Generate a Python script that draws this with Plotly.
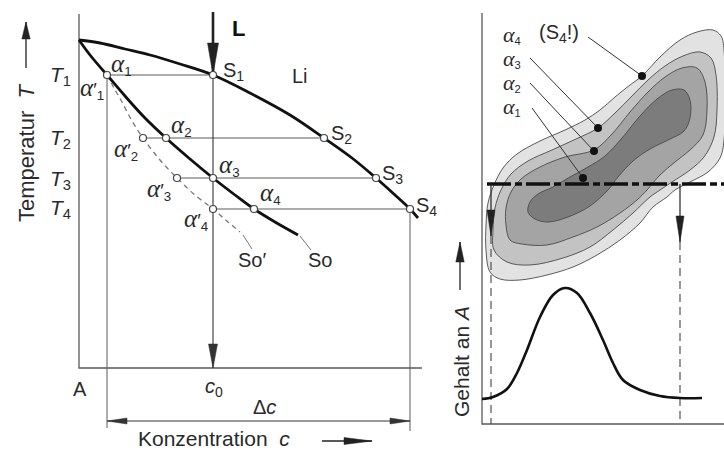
import plotly.graph_objects as go

# ---------------- drawing data (units: x to the right, y downward) ----------------
# Left panel: phase diagram, concentration c (x) vs temperature T (y)
axis_left_x = [79, 79, 422]
axis_left_y = [14, 368, 368]
liquidus_x = [79, 100, 125, 150, 180, 213, 250, 290, 324, 352, 376, 395, 410, 418]
liquidus_y = [40, 43, 49, 55, 64, 75, 93, 115, 138, 158, 178, 195, 209, 218]
solidus_x = [79, 90, 107, 125, 145, 166, 190, 213, 235, 254, 275, 298]
solidus_y = [40, 55, 75, 96, 118, 138, 159, 178, 195, 209, 222, 235]
nonequil_x = [107, 114, 122, 132, 143, 160, 177, 195, 213, 228, 240]
nonequil_y = [75, 88, 102, 121, 138, 160, 178, 195, 209, 222, 232]
T_levels = [75, 138, 178, 209]
T_names = ["T", "T", "T", "T"]
T_idx = ["1", "2", "3", "4"]
alpha_x = [107, 166, 213, 254]
alpha_prime_x = [107, 143, 177, 213]
S_x = [213, 324, 376, 410]
c0 = 213
c_left, c_right = 107, 410
conc_bottom = 368
dc_level = 421

# Right panel: segregation map and concentration profile
axis_right_x = [482, 482, 724]
axis_right_y = [13, 424, 424]
contour_A_x = [490, 486, 486, 488, 494, 503, 517, 540, 565, 585, 600, 615, 630, 642, 660, 680, 697, 713, 721, 724, 724, 720, 708, 690, 675, 667, 653, 640, 620, 597, 573, 547, 520, 500]
contour_A_y = [272, 250, 225, 203, 185, 168, 154, 141, 130, 120, 110, 97, 85, 76, 57, 40, 32, 30, 36, 50, 140, 158, 172, 182, 190, 197, 207, 223, 240, 255, 267, 275, 280, 279]
contour_B_x = [494, 493, 495, 501, 511, 528, 552, 576, 598, 615, 632, 648, 665, 683, 700, 711, 716, 717, 714, 704, 690, 672, 660, 650, 633, 613, 590, 563, 530, 507]
contour_B_y = [250, 230, 208, 190, 174, 161, 150, 139, 128, 113, 96, 80, 66, 56, 52, 58, 75, 110, 137, 157, 170, 182, 190, 197, 213, 230, 247, 258, 265, 262]
contour_C_x = [510, 506, 506, 511, 521, 540, 565, 594, 612, 630, 648, 665, 682, 697, 705, 707, 703, 690, 675, 660, 647, 637, 620, 597, 573, 547, 522]
contour_C_y = [240, 225, 208, 192, 179, 167, 157, 150, 134, 112, 92, 77, 68, 68, 82, 110, 135, 150, 162, 175, 190, 200, 213, 227, 237, 245, 244]
contour_D_x = [528, 530, 538, 553, 570, 588, 605, 622, 640, 657, 672, 684, 690, 690, 684, 668, 650, 633, 618, 608, 590, 568, 548, 535]
contour_D_y = [212, 202, 194, 187, 177, 167, 156, 138, 116, 99, 90, 90, 100, 118, 131, 140, 149, 161, 177, 190, 206, 217, 222, 219]
contour_fill = ["#e2e2e2", "#c3c3c3", "#a4a4a4", "#7c7c7c"]
dots_x = [583, 594, 598, 642]
dots_y = [178, 151, 128, 76]
dot_names = ["1", "2", "3", "4"]
cut_y = 184
cut_x = [487, 724]
cut_left_x, cut_right_x = 491, 680
profile_x = [482, 493, 507, 517, 527, 540, 553, 565, 577, 590, 603, 613, 623, 640, 660, 680, 702]
profile_y = [399, 397, 389, 373, 350, 317, 295, 288, 293, 313, 340, 363, 380, 390, 396, 398, 398]

# ---------------- styles ----------------
INK = "#222222"
GREY = "#5a5a5a"
SANS = "Liberation Sans, Arial, sans-serif"
SERIF = "Liberation Serif, Times New Roman, serif"

fig = go.Figure()


def line(xs, ys, color=GREY, width=1.0, dash=None, shape="linear"):
    fig.add_trace(go.Scatter(x=xs, y=ys, mode="lines",
                             line=dict(color=color, width=width, dash=dash, shape=shape, smoothing=1.0),
                             hoverinfo="skip", showlegend=False))


def arrow(tail, tip, head_len, head_hw, color=INK, width=1.0, both=False):
    line([tail[0], tip[0]], [tail[1], tip[1]], color=color, width=width)
    ends = [(tail, tip)] + ([(tip, tail)] if both else [])
    for a, b in ends:
        dx, dy = b[0] - a[0], b[1] - a[1]
        n = (dx * dx + dy * dy) ** 0.5
        ux, uy = dx / n, dy / n
        bx, by = b[0] - ux * head_len, b[1] - uy * head_len
        px, py = -uy * head_hw, ux * head_hw
        fig.add_trace(go.Scatter(x=[b[0], bx + px, bx - px, b[0]], y=[b[1], by + py, by - py, b[1]],
                                 mode="lines", fill="toself", fillcolor=color,
                                 line=dict(color=color, width=0.5), hoverinfo="skip", showlegend=False))


def text(x, y, s, size=19, family=SANS, color="#2a2a2a", angle=0, xanchor="center"):
    fig.add_annotation(x=x, y=y, xref="x", yref="y", text=s, showarrow=False,
                       font=dict(family=family, size=size, color=color), textangle=angle,
                       xanchor=xanchor, yanchor="middle")


def greek(sub, prime=False, px=25):
    a = '<span style="font-family:Liberation Serif;font-style:italic;font-size:%dpx">α</span>' % px
    return a + ("′" if prime else "") + "<sub>" + sub + "</sub>"


# ---------- left panel ----------
line(axis_left_x, axis_left_y, color=GREY, width=1.3)
for i, T in enumerate(T_levels):
    line([alpha_prime_x[i], S_x[i]], [T, T], color=GREY, width=1.0)
line([c_left, c_left], [T_levels[0], 428], color=GREY, width=1.0)
line([c_right, c_right], [T_levels[3], 431], color=GREY, width=1.0)
line(nonequil_x, nonequil_y, color="#777777", width=1.3, dash="5px,4px", shape="spline")
line([243, 252], [235, 249], color="#777777", width=1.0)
line([300, 311], [236, 250], color="#777777", width=1.0)
line(liquidus_x, liquidus_y, color="#111111", width=2.8, shape="spline")
line(solidus_x, solidus_y, color="#111111", width=2.8, shape="spline")
arrow((c0, 12), (c0, T_levels[0]), 32, 5.5, width=2.6)
arrow((c0, T_levels[0]), (c0, conc_bottom), 24, 4.5, width=1.1, color="#333333")
arrow((c_left, dc_level), (c_right, dc_level), 20, 3.0, width=1.1, color="#333333", both=True)
arrow((322, 441), (372, 441), 28, 3.5, width=1.5)
arrow((26, 68), (26, 22), 17, 4.2, width=1.3)

pts_x = alpha_x + alpha_prime_x[1:] + S_x
pts_y = T_levels + T_levels[1:] + T_levels
fig.add_trace(go.Scatter(x=pts_x, y=pts_y, mode="markers",
                         marker=dict(size=7, color="white", line=dict(color="#444444", width=1.2)),
                         hoverinfo="skip", showlegend=False))

# left labels
T_ypos = [76, 139, 180, 209]
for i in range(4):
    text(60, T_ypos[i], "<i>" + T_names[i] + "</i><sub>" + T_idx[i] + "</sub>", size=21)
text(121, 64, greek("1"), size=19)
text(92, 88, greek("1", True), size=19)
text(181, 125, greek("2"), size=19)
text(126, 149, greek("2", True), size=19)
text(229, 165, greek("3"), size=19)
text(159, 189, greek("3", True), size=19)
text(270, 193, greek("4"), size=19)
text(196, 219, greek("4", True), size=19)
S_lab_pos = [(233, 71), (341, 134), (392, 174), (426, 206)]
for i, (x, y) in enumerate(S_lab_pos):
    text(x, y, "S<sub>" + T_idx[i] + "</sub>", size=20)
text(300, 76, "Li", size=20)
text(238, 28, "<b>L</b>", size=22, color="#111111")
text(252, 260, "So′", size=20)
text(320, 260, "So", size=20)
text(80, 389, "A", size=20)
text(214, 387, "<i>c</i><sub>0</sub>", size=20)
text(264, 407, "Δ<i>c</i>", size=20)
text(214, 438, "Konzentration  <i>c</i>", size=21)
text(26, 153, "Temperatur  <i>T</i>", size=22, angle=-90)

# ---------- right panel ----------
for xs, ys, fc in [(contour_A_x, contour_A_y, contour_fill[0]), (contour_B_x, contour_B_y, contour_fill[1]),
                   (contour_C_x, contour_C_y, contour_fill[2]), (contour_D_x, contour_D_y, contour_fill[3])]:
    fig.add_trace(go.Scatter(x=xs + xs[:1], y=ys + ys[:1], mode="lines", fill="toself", fillcolor=fc,
                             line=dict(color="#4a4a4a", width=0.9, shape="spline", smoothing=1.0),
                             hoverinfo="skip", showlegend=False))
line(axis_right_x, axis_right_y, color=GREY, width=1.3)
line(cut_x, [cut_y, cut_y], color="#111111", width=3.4, dash="24px,4px,7px,4px")
arrow((cut_left_x, cut_y), (cut_left_x, 236), 26, 4.0, width=1.2, color="#222222")
arrow((cut_right_x, cut_y), (cut_right_x, 242), 26, 4.0, width=1.2, color="#222222")
line([cut_left_x, cut_left_x], [236, 424], color="#444444", width=1.1, dash="8px,5px")
line([cut_right_x, cut_right_x], [242, 424], color="#444444", width=1.1, dash="8px,5px")
line(profile_x, profile_y, color="#111111", width=2.6, shape="spline")
arrow((460, 290), (460, 242), 20, 4.2, width=1.3)
text(461, 362, "Gehalt an <i>A</i>", size=21, angle=-90)

leader_start = [(532, 108), (530, 83), (530, 58), (588, 37)]
for i in range(4):
    line([leader_start[i][0], dots_x[i]], [leader_start[i][1], dots_y[i]], color="#333333", width=1.0)
fig.add_trace(go.Scatter(x=dots_x, y=dots_y, mode="markers",
                         marker=dict(size=8, color="#111111"), hoverinfo="skip", showlegend=False))
lab_y = [106, 82, 58, 34]
for i in range(4):
    text(501, lab_y[i], greek(dot_names[i], px=22), size=16, xanchor="left")
text(537, 33, "(S<sub>4</sub>!)", size=20, xanchor="left")

fig.update_layout(width=724, height=450, margin=dict(l=0, r=0, t=0, b=0),
                  paper_bgcolor="white", plot_bgcolor="white", showlegend=False)
fig.update_xaxes(range=[0, 724], visible=False, fixedrange=True)
fig.update_yaxes(range=[450, 0], visible=False, fixedrange=True)
fig.write_html("out.html")
